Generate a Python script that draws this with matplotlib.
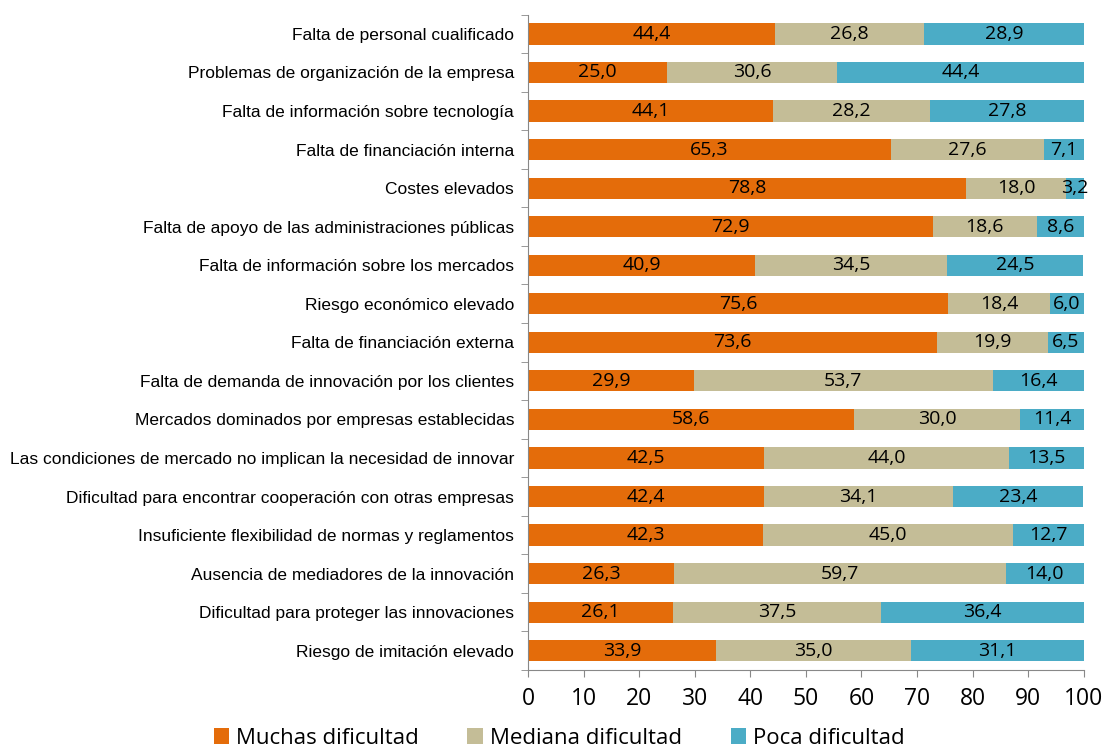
import matplotlib.pyplot as plt
import numpy as np

# categories, top to bottom
categories = [
    'Falta de personal cualificado',
    'Problemas de organización de la empresa',
    'Falta de información sobre tecnología',
    'Falta de financiación interna',
    'Costes elevados',
    'Falta de apoyo de las administraciones públicas',
    'Falta de información sobre los mercados',
    'Riesgo económico elevado',
    'Falta de financiación externa',
    'Falta de demanda de innovación por los clientes',
    'Mercados dominados por empresas establecidas',
    'Las condiciones de mercado no implican la necesidad de innovar',
    'Dificultad para encontrar cooperación con otras empresas',
    'Insuficiente flexibilidad de normas y reglamentos',
    'Ausencia de mediadores de la innovación',
    'Dificultad para proteger las innovaciones',
    'Riesgo de imitación elevado',
]
muchas = [44.4, 25.0, 44.1, 65.3, 78.8, 72.9, 40.9, 75.6, 73.6, 29.9, 58.6, 42.5, 42.4, 42.3, 26.3, 26.1, 33.9]
mediana = [26.8, 30.6, 28.2, 27.6, 18.0, 18.6, 34.5, 18.4, 19.9, 53.7, 30.0, 44.0, 34.1, 45.0, 59.7, 37.5, 35.0]
poca = [28.9, 44.4, 27.8, 7.1, 3.2, 8.6, 24.5, 6.0, 6.5, 16.4, 11.4, 13.5, 23.4, 12.7, 14.0, 36.4, 31.1]
series_names = ['Muchas dificultad', 'Mediana dificultad', 'Poca dificultad']
colors = ['#E46C0A', '#C4BD97', '#4BACC6']

label_font = ['Liberation Sans Narrow', 'Liberation Sans', 'DejaVu Sans']
num_font = ['Open Sans', 'DejaVu Sans']

fig = plt.figure(figsize=(11.07, 7.55), dpi=100)
ax = fig.add_axes([0.477, 0.1126, 0.502, 0.868])

y = np.arange(len(categories))
left = np.zeros(len(categories))
for vals, name, col in zip([muchas, mediana, poca], series_names, colors):
    vals = np.array(vals)
    ax.barh(y, vals, left=left, height=0.55, color=col, label=name, edgecolor='none')
    for yi, l, v in zip(y, left, vals):
        ax.text(l + v / 2, yi, f'{v:.1f}'.replace('.', ','), ha='center', va='center',
                fontsize=14, family=num_font, color='black')
    left = left + vals

ax.set_xlim(0, 100)
ax.set_ylim(len(categories) - 0.5, -0.5)
ax.set_xticks(np.arange(0, 101, 10))
ax.set_xticklabels([str(v) for v in range(0, 101, 10)], family=num_font, fontsize=16.5)
ax.set_yticks(y)
ax.set_yticklabels(categories, family=label_font, fontsize=12.5)
ax.set_yticks(np.arange(-0.5, len(categories), 1), minor=True)
ax.tick_params(axis='y', which='major', length=0, pad=10)
ax.tick_params(axis='y', which='minor', length=5, color='#888888')
ax.tick_params(axis='x', length=5, color='#888888', pad=7)

for s in ['top', 'right']:
    ax.spines[s].set_visible(False)
for s in ['left', 'bottom']:
    ax.spines[s].set_color('#888888')

fig.legend(loc='center', bbox_to_anchor=(0.505, 0.022), ncol=3, frameon=False,
           prop={'family': num_font, 'size': 16}, handlelength=0.7, handleheight=0.7,
           handletextpad=0.3, columnspacing=2.2)

fig.savefig('out.png', dpi=100)
